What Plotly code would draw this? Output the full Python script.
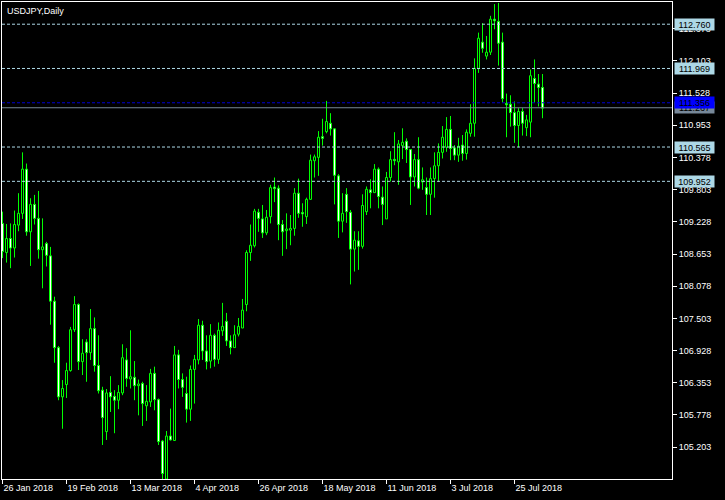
import plotly.graph_objects as go
import pandas as pd

# ---- data (USDJPY daily, 26 Jan 2018 .. 3 Aug 2018) ----
dates = pd.bdate_range("2018-01-26", periods=136)

opens = [109.20, 108.68, 108.93, 108.76, 109.17, 109.38, 110.17, 109.05, 109.54, 109.29,
         108.73, 108.84, 108.62, 107.81, 106.98, 106.10, 106.32, 106.57, 107.30, 107.75,
         106.73, 107.08, 106.89, 107.32, 106.66, 106.22, 105.48, 106.18, 106.11, 106.04,
         106.17, 106.76, 106.42, 106.45, 106.30, 106.34, 105.94, 106.01, 106.52, 106.05,
         105.31, 104.63, 105.40, 105.32, 106.85, 106.41, 106.16, 105.88, 106.59, 106.76,
         107.38, 106.92, 106.74, 107.20, 106.77, 107.28, 107.45, 107.10, 106.98, 107.22,
         107.33, 107.75, 108.68, 108.80, 109.40, 109.28, 109.03, 109.32, 109.85, 109.83,
         109.18, 109.07, 109.08, 109.11, 109.74, 109.39, 109.32, 109.63, 110.32, 110.38,
         110.75, 110.84, 110.99, 110.89, 110.05, 109.24, 109.72, 109.40, 108.74, 108.89,
         108.79, 109.41, 109.80, 109.75, 110.17, 109.67, 109.28, 110.02, 110.34, 110.30,
         110.59, 110.67, 110.52, 110.03, 110.34, 109.94, 109.84, 109.72, 110.00, 110.23,
         110.47, 110.56, 110.88, 110.55, 110.42, 110.60, 110.45, 110.81, 110.99, 111.97,
         112.44, 112.19, 112.26, 112.85, 112.81, 112.44, 111.33, 111.33, 111.18, 110.95,
         111.20, 110.91, 111.01, 111.79, 111.69, 111.63]
highs = [109.41, 109.19, 109.20, 109.43, 109.74, 110.47, 110.27, 109.65, 109.71, 109.78,
         109.29, 108.87, 108.78, 107.89, 107.01, 106.40, 106.71, 107.35, 107.90, 107.77,
         107.13, 107.13, 107.67, 107.52, 107.20, 106.28, 106.24, 106.47, 106.22, 106.31,
         107.04, 106.97, 107.29, 106.74, 106.41, 106.37, 106.31, 106.60, 106.64, 106.07,
         105.33, 105.49, 105.89, 107.01, 106.94, 106.52, 106.46, 106.66, 106.85, 107.49,
         107.46, 107.20, 107.40, 107.23, 107.43, 107.78, 107.60, 107.20, 107.38, 107.51,
         107.85, 108.72, 109.18, 109.46, 109.46, 109.53, 109.44, 109.89, 110.02, 109.88,
         109.26, 109.38, 109.35, 109.83, 110.00, 109.56, 109.66, 110.43, 110.43, 110.85,
         111.07, 111.39, 111.17, 110.90, 110.08, 109.74, 109.83, 109.44, 109.06, 109.06,
         109.72, 109.86, 109.99, 110.26, 110.20, 109.86, 110.12, 110.49, 110.83, 110.69,
         110.90, 110.72, 110.52, 110.44, 110.74, 110.20, 110.02, 110.20, 110.47, 110.63,
         110.94, 111.10, 111.12, 110.60, 110.73, 110.78, 110.88, 111.33, 112.15, 112.61,
         112.78, 112.55, 112.91, 113.12, 113.14, 112.61, 111.52, 111.49, 111.38, 111.26,
         111.26, 111.14, 111.95, 112.13, 111.87, 111.87]
lows = [108.58, 108.50, 108.40, 108.59, 109.06, 109.28, 108.98, 108.44, 109.18, 108.57,
        108.04, 108.43, 107.39, 106.71, 106.04, 105.53, 106.08, 106.55, 107.26, 106.58,
        106.49, 106.37, 106.76, 106.55, 106.16, 105.24, 105.33, 105.83, 105.45, 105.88,
        106.13, 106.28, 106.25, 106.04, 105.77, 105.58, 105.67, 105.92, 105.86, 105.24,
        104.63, 104.56, 105.32, 105.32, 106.25, 106.10, 105.64, 105.67, 105.98, 106.68,
        106.76, 106.59, 106.61, 106.64, 106.69, 107.19, 107.01, 106.86, 106.98, 107.18,
        107.33, 107.63, 108.53, 108.77, 109.05, 108.94, 108.99, 109.20, 109.58, 108.90,
        108.62, 108.74, 108.81, 108.98, 109.30, 109.14, 109.19, 109.62, 110.02, 110.05,
        110.59, 110.81, 110.77, 109.54, 108.94, 109.04, 109.21, 108.11, 108.34, 108.37,
        108.75, 109.35, 109.47, 109.75, 109.47, 109.17, 109.28, 109.95, 110.24, 109.89,
        110.35, 110.28, 109.53, 109.86, 109.81, 109.80, 109.35, 109.35, 109.66, 109.95,
        110.36, 110.48, 110.33, 110.33, 110.30, 110.32, 110.34, 110.75, 110.75, 111.89,
        112.25, 112.13, 112.21, 112.67, 112.02, 111.36, 110.74, 110.93, 110.64, 110.56,
        110.77, 110.76, 110.74, 111.36, 111.29, 111.08]
closes = [108.70, 108.93, 108.76, 109.18, 109.38, 110.17, 109.05, 109.54, 109.29, 108.73,
          108.78, 108.63, 107.81, 106.98, 106.10, 106.25, 106.57, 107.30, 107.75, 106.73,
          106.88, 106.89, 107.32, 106.66, 106.21, 105.73, 106.17, 106.10, 106.04, 106.18,
          106.80, 106.43, 106.46, 106.30, 106.33, 105.98, 106.02, 106.52, 106.05, 105.30,
          104.73, 105.40, 105.33, 106.85, 106.41, 106.27, 105.88, 106.59, 106.77, 107.38,
          106.92, 106.73, 107.20, 106.77, 107.29, 107.36, 107.10, 106.98, 107.21, 107.36,
          107.65, 108.68, 108.81, 109.42, 109.29, 109.03, 109.31, 109.84, 109.82, 109.18,
          109.05, 109.10, 109.11, 109.74, 109.38, 109.37, 109.63, 110.33, 110.39, 110.74,
          110.72, 111.02, 110.89, 110.06, 109.24, 109.38, 109.41, 108.74, 108.90, 108.79,
          109.52, 109.81, 109.75, 110.17, 109.68, 109.54, 110.02, 110.34, 110.32, 110.62,
          110.65, 110.52, 110.03, 110.34, 109.83, 109.98, 109.72, 110.00, 110.23, 110.47,
          110.74, 110.88, 110.54, 110.42, 110.58, 110.45, 110.83, 110.99, 111.97, 112.51,
          112.33, 112.26, 112.85, 112.82, 112.42, 111.43, 111.32, 111.18, 110.95, 111.20,
          110.99, 111.05, 111.84, 111.70, 111.63, 111.26]

date_tick_labels = ["26 Jan 2018", "19 Feb 2018", "13 Mar 2018", "4 Apr 2018", "26 Apr 2018",
                    "18 May 2018", "11 Jun 2018", "3 Jul 2018", "25 Jul 2018"]
price_ticks = [105.203, 105.778, 106.353, 106.928, 107.503, 108.078, 108.653,
               109.228, 109.803, 110.378, 110.953, 111.528, 112.103, 112.678]
level_lines = [112.760, 111.969, 110.565, 109.952]
ask_level = 111.356
bid_level = 111.267
title_text = "USDJPY,Daily"

# ---- derived ----
LIME = "#00FF00"
idx = list(range(len(opens)))
date_strs = [f"{d.day} {d.strftime('%b %Y')}" for d in dates]
tick_pos = [date_strs.index(t) for t in date_tick_labels]

body_lo = [min(o, c) for o, c in zip(opens, closes)]
body_hi = [max(o, c) for o, c in zip(opens, closes)]
body_h = [max(h - l, 0.025) for h, l in zip(body_hi, body_lo)]
body_fill = ["black" if c >= o else "white" for o, c in zip(opens, closes)]

wx, wy = [], []
for i in idx:
    wx += [i, i, None, i, i, None]
    wy += [highs[i], body_hi[i], None, body_lo[i], lows[i], None]

fig = go.Figure()
fig.add_trace(go.Scatter(x=wx, y=wy, mode="lines", line=dict(color=LIME, width=1),
                         hoverinfo="skip", showlegend=False))
fig.add_trace(go.Bar(x=idx, y=body_h, base=body_lo, width=0.5,
                     marker=dict(color=body_fill, line=dict(color=LIME, width=1)),
                     hoverinfo="skip", showlegend=False))

FONT = "Liberation Sans, Arial, sans-serif"
shapes = []
for lv in level_lines:
    shapes.append(dict(type="line", xref="paper", x0=0, x1=1, yref="y", y0=lv, y1=lv,
                       line=dict(color="#ADD8E6", width=1, dash="3px,2px")))
shapes.append(dict(type="line", xref="paper", x0=0, x1=1, yref="y", y0=ask_level, y1=ask_level,
                   line=dict(color="#0000D0", width=1, dash="3px,2px")))
shapes.append(dict(type="line", xref="paper", x0=0, x1=1, yref="y", y0=bid_level, y1=bid_level,
                   line=dict(color="#778899", width=1)))

annotations = [dict(text=title_text, xref="paper", yref="paper", x=0, y=1, xanchor="left",
                    yanchor="top", xshift=3, yshift=-2, showarrow=False,
                    font=dict(family=FONT, size=9, color="white"))]


def level_label(val, bg, fg):
    return dict(text=f"{val:.3f}", xref="paper", x=1, xanchor="left", xshift=2,
                yref="y", y=val, yanchor="middle", showarrow=False, bgcolor=bg,
                width=37, height=9, borderpad=1, align="center",
                font=dict(family=FONT, size=9, color=fg))


for lv in level_lines:
    annotations.append(level_label(lv, "#ADD8E6", "black"))
annotations.append(level_label(bid_level, "#778899", "black"))
annotations.append(level_label(ask_level, "#0000FF", "black"))

fig.update_layout(
    width=725, height=500,
    margin=dict(l=2, r=53, t=2, b=21),
    paper_bgcolor="black", plot_bgcolor="black",
    bargap=0, bargroupgap=0, barmode="overlay",
    showlegend=False, hovermode=False,
    font=dict(family=FONT, size=9, color="white"),
    shapes=shapes, annotations=annotations,
    xaxis=dict(range=[-0.125, 167.375], showgrid=False, zeroline=False,
               showline=True, mirror=True, linecolor="white", linewidth=1,
               ticks="outside", ticklen=4, tickcolor="white", tickwidth=1,
               tickvals=tick_pos, ticktext=date_tick_labels,
               ticklabelposition="outside right",
               tickfont=dict(family=FONT, size=9, color="white"),
               rangeslider=dict(visible=False), fixedrange=True),
    yaxis=dict(range=[104.632, 113.157], side="right", showgrid=False, zeroline=False,
               showline=True, mirror=True, linecolor="white", linewidth=1,
               ticks="outside", ticklen=4, tickcolor="white", tickwidth=1,
               tickvals=price_ticks, tickformat=".3f",
               tickfont=dict(family=FONT, size=9, color="white"), fixedrange=True),
)

fig.write_html("out.html", config={"displayModeBar": False, "staticPlot": True},
               post_script="document.body.style.margin='0';document.body.style.background='black';")
